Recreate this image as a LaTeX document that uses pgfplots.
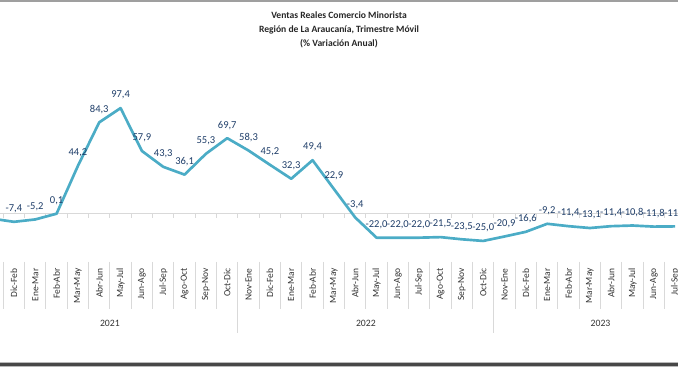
\documentclass[border=0pt]{standalone}
\usepackage{pgfplots}
\pgfplotsset{compat=1.18}
\usepackage{pgfplotstable}
\usepackage{fontspec}
\setmainfont{Carlito}
\definecolor{linec}{RGB}{75,172,198}
\definecolor{lblc}{RGB}{31,62,105}
\definecolor{gridc}{RGB}{217,217,217}
\definecolor{txtc}{RGB}{50,50,50}

\pgfplotstableread{
i v lbl
0 -4.5 x
1 -7.4 -7,4
2 -5.2 -5,2
3 0.1 0,1
4 44.2 44,2
5 84.3 84,3
6 97.4 97,4
7 57.9 57,9
8 43.3 43,3
9 36.1 36,1
10 55.3 55,3
11 69.7 69,7
12 58.3 58,3
13 45.2 45,2
14 32.3 32,3
15 49.4 49,4
16 22.9 22,9
17 -3.4 -3,4
18 -22.0 -22,0
19 -22.0 -22,0
20 -22.0 -22,0
21 -21.5 -21,5
22 -23.5 -23,5
23 -25.0 -25,0
24 -20.9 -20,9
25 -16.6 -16,6
26 -9.2 -9,2
27 -11.4 -11,4
28 -13.1 -13,1
29 -11.4 -11,4
30 -10.8 -10,8
31 -11.8 -11,8
32 -11.6 -11,6
}\data

\begin{document}
\begin{tikzpicture}
\useasboundingbox (0pt,0pt) rectangle (508.5pt,276pt);
\clip (0pt,0pt) rectangle (508.5pt,276pt);
% top and bottom borders
\fill[gray!75] (0pt,274.5pt) rectangle (508.5pt,276pt);
\fill[gray!55] (0pt,0.6pt) rectangle (508.5pt,4.8pt);
\fill[black!72] (0pt,1.5pt) rectangle (508.5pt,3.9pt);
\begin{axis}[
  at={(0pt,74.96pt)}, anchor=south west,
  scale only axis, width=508.5pt, height=156.04pt,
  xmin=0.3469, xmax=32.133, ymin=-50, ymax=141.75,
  clip=false,
  axis line style={draw=none},
  ytick=\empty,
  xtick={0,...,32},
  xticklabels={Nov-Ene,Dic-Feb,Ene-Mar,Feb-Abr,Mar-May,Abr-Jun,May-Jul,Jun-Ago,Jul-Sep,Ago-Oct,Sep-Nov,Oct-Dic,
               Nov-Ene,Dic-Feb,Ene-Mar,Feb-Abr,Mar-May,Abr-Jun,May-Jul,Jun-Ago,Jul-Sep,Ago-Oct,Sep-Nov,Oct-Dic,
               Nov-Ene,Dic-Feb,Ene-Mar,Feb-Abr,Mar-May,Abr-Jun,May-Jul,Jun-Ago,Jul-Sep},
  xtick style={draw=none},
  xticklabel style={rotate=90, anchor=east, inner sep=0pt, font=\fontsize{7.1}{8}\selectfont, text=txtc},
  every node near coord/.append style={anchor=center, yshift=9.75pt, font=\fontsize{7.9}{9}\selectfont, text=lblc, inner sep=0pt},
]
% zero line and ticks
\draw[gridc, line width=0.75pt] (axis cs:0.2,0) -- (axis cs:32.3,0);
\pgfplotsinvokeforeach{0,...,31}{
  \draw[gridc, line width=0.75pt] (axis cs:#1.5,0) -- (axis cs:#1.5,-4);
  \draw[gridc, line width=0.75pt] (axis cs:#1.5,-44.4) -- (axis cs:#1.5,-87.7);
}
\draw[gridc, line width=0.75pt] (axis cs:11.5,-44.4) -- (axis cs:11.5,-109.9);
\draw[gridc, line width=0.75pt] (axis cs:23.5,-44.4) -- (axis cs:23.5,-109.9);
% year labels
\node[font=\fontsize{7.3}{9}\selectfont, text=txtc] at (axis cs:5.5,-100.6) {2021};
\node[font=\fontsize{7.3}{9}\selectfont, text=txtc] at (axis cs:17.5,-100.6) {2022};
\node[font=\fontsize{7.3}{9}\selectfont, text=txtc] at (axis cs:28.5,-100.6) {2023};
% title
\node[align=center, font=\bfseries\fontsize{7.2}{10.7}\selectfont, text=black!85] at (axis cs:16.24,169.4)
  {Ventas Reales Comercio Minorista\\Región de La Araucanía, Trimestre Móvil\\(\% Variación Anual)};
% data
\addplot[color=linec, line width=2pt, mark=none, line join=round] table[x=i, y=v] {\data};
\addplot[draw=none, mark=none, nodes near coords, point meta=explicit symbolic,
  skip coords between index={0}{1}] table[x=i, y=v, meta=lbl] {\data};
\end{axis}
\end{tikzpicture}
\end{document}
